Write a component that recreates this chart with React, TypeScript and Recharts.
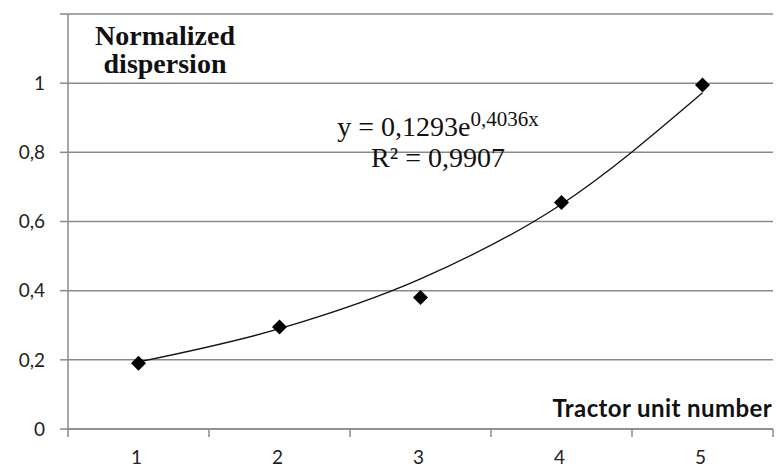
import { CartesianGrid, ComposedChart, Line, XAxis, YAxis } from "recharts";

// values
const units = [1, 2, 3, 4, 5];
const dispersion = [0.19, 0.295, 0.38, 0.655, 0.995];
// exponential trend line (y = 0.1293e^0.4036x)
const trendValues = [0.194, 0.29, 0.434, 0.65, 0.972];
const yTicks = [0, 0.2, 0.4, 0.6, 0.8, 1, 1.2];

const data = units.map((unit, i) => ({
  unit,
  dispersion: dispersion[i],
  trend: trendValues[i],
}));

const GRID = "#8a8a8a";
const HALF_BAND = 70.5;
const SANS = "Lato, 'Open Sans', sans-serif";
const SERIF = "'Liberation Serif', 'Times New Roman', serif";

function XTick({ x, y, payload }: any) {
  return (
    <g>
      <line x1={x - HALF_BAND} x2={x - HALF_BAND} y1={y} y2={y + 8} stroke={GRID} strokeWidth={1.5} />
      {payload.value === units[units.length - 1] && (
        <line x1={x + HALF_BAND} x2={x + HALF_BAND} y1={y} y2={y + 8} stroke={GRID} strokeWidth={1.5} />
      )}
      <text x={x - 2} y={y + 35} textAnchor="middle" fill="#222" fontFamily={SANS} fontSize={19}>
        {payload.value}
      </text>
    </g>
  );
}

function Diamond({ cx, cy, index }: any) {
  const r = 7.5;
  return (
    <polygon
      key={`d-${index}`}
      points={`${cx},${cy - r} ${cx + r},${cy} ${cx},${cy + r} ${cx - r},${cy}`}
      fill="#000"
    />
  );
}

export default function App() {
  return (
    <div style={{ position: "absolute", left: 0, top: 0, width: 777, height: 468, background: "#fff" }}>
      <ComposedChart width={777} height={468} data={data} margin={{ top: 14, right: 4, bottom: 0, left: 0 }}>
        <CartesianGrid vertical={false} stroke={GRID} strokeWidth={1.5} />
        <XAxis
          type="number"
          dataKey="unit"
          domain={[0.5, 5.5]}
          ticks={units}
          height={39}
          tickSize={0}
          tickMargin={0}
          tickLine={false}
          axisLine={{ stroke: GRID, strokeWidth: 1.5 }}
          tick={<XTick />}
        />
        <YAxis
          domain={[0, 1.2]}
          ticks={yTicks}
          width={68}
          tickSize={8}
          tickMargin={15}
          axisLine={{ stroke: GRID, strokeWidth: 1.5 }}
          tickLine={{ stroke: GRID, strokeWidth: 1.5 }}
          tick={{ fill: "#222", fontFamily: SANS, fontSize: 19 }}
          tickFormatter={(v: number) => (v === 1.2 ? "" : String(v).replace(".", ","))}
        />
        <Line
          type="monotone"
          dataKey="trend"
          stroke="#111"
          strokeWidth={1.3}
          dot={false}
          activeDot={false}
          isAnimationActive={false}
        />
        <Line
          dataKey="dispersion"
          stroke="none"
          dot={(p: any) => <Diamond {...p} />}
          activeDot={false}
          isAnimationActive={false}
        />
      </ComposedChart>

      <div
        style={{
          position: "absolute",
          left: 75,
          top: 22,
          width: 180,
          textAlign: "center",
          fontFamily: SERIF,
          fontWeight: "bold",
          fontSize: 28,
          lineHeight: "28px",
          color: "#111",
        }}
      >
        Normalized
        <br />
        dispersion
      </div>

      <div
        style={{
          position: "absolute",
          right: 5,
          top: 396,
          fontFamily: SANS,
          fontWeight: "bold",
          fontSize: 24,
          lineHeight: "24px",
          letterSpacing: 0.4,
          color: "#111",
        }}
      >
        Tractor unit number
      </div>

      <div
        style={{
          position: "absolute",
          left: 318,
          top: 111,
          width: 240,
          textAlign: "center",
          fontFamily: SERIF,
          fontSize: 28,
          lineHeight: "31px",
          color: "#111",
        }}
      >
        y = 0,1293e<span style={{ fontSize: 21, verticalAlign: "10px", lineHeight: 0 }}>0,4036x</span>
        <br />
        R² = 0,9907
      </div>
    </div>
  );
}
